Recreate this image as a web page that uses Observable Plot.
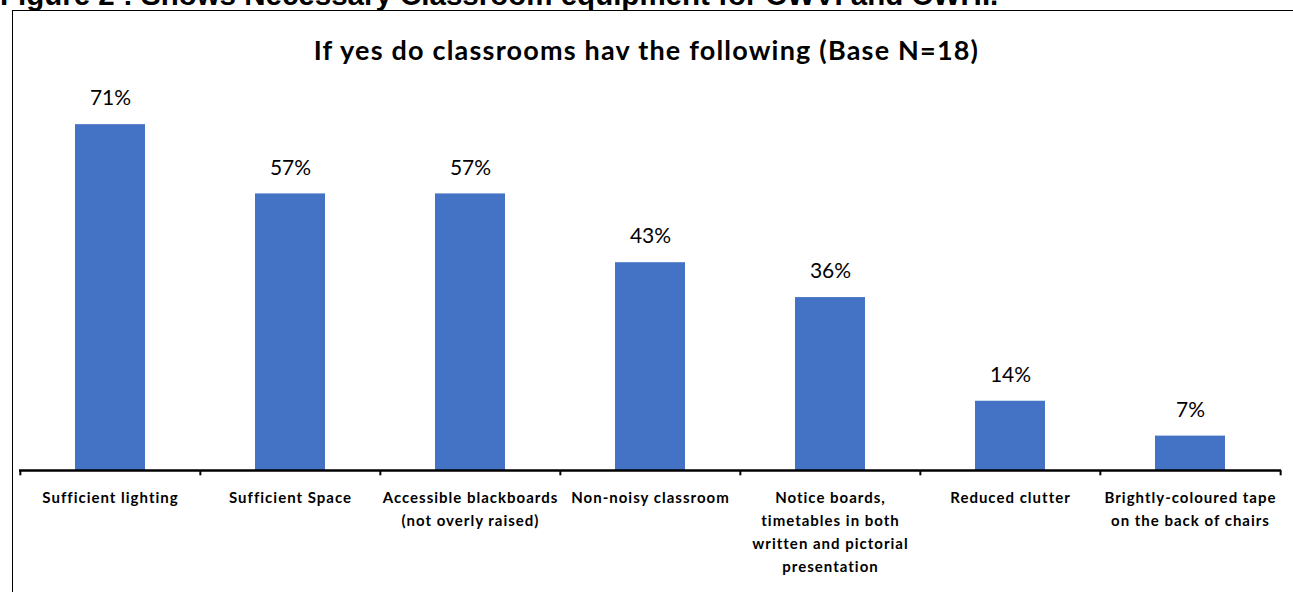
<!DOCTYPE html>
<html>
<head>
<meta charset="utf-8">
<script src="https://cdn.jsdelivr.net/npm/d3@7"></script>
<script src="https://cdn.jsdelivr.net/npm/@observablehq/plot@0.6"></script>
<style>
  html, body { margin: 0; padding: 0; background: #fff; overflow: hidden; width: 1293px; height: 592px; }
  #capsvg { position: absolute; left: 0; top: 0; }
  #box { position: absolute; left: 12px; top: 10px; width: 1400px; height: 700px; border: 1.5px solid #000; box-sizing: border-box; }
  #title { position: absolute; left: 0; width: 1293px; top: 35px; text-align: center; font-family: Lato, "Open Sans", sans-serif; font-weight: bold; font-size: 27px; letter-spacing: 1.2px; color: #000; line-height: 30px; }
  #chart { position: absolute; left: 0; top: 0; }
</style>
</head>
<body>
<svg id="capsvg" width="1293" height="12"><text x="0" y="5" font-family="Liberation Sans, Arial, sans-serif" font-weight="bold" font-size="29.5" fill="#000">Figure 2 : Shows Necessary Classroom equipment for CWVI and CWHI.</text></svg>
<div id="box"></div>
<div id="title">If yes do classrooms hav the following (Base N=18)</div>
<div id="chart"></div>
<script>
const categories = [
  "Sufficient lighting",
  "Sufficient Space",
  "Accessible blackboards\n(not overly raised)",
  "Non-noisy classroom",
  "Notice boards,\ntimetables in both\nwritten and pictorial\npresentation",
  "Reduced clutter",
  "Brightly-coloured tape\non the back of chairs"
];
const values = [71.4, 57.1, 57.1, 42.9, 35.7, 14.3, 7.1];
const valueLabels = ["71%", "57%", "57%", "43%", "36%", "14%", "7%"];

const data = categories.map((c, i) => ({category: c, value: values[i], label: valueLabels[i]}));

const W = 1293, H = 592;
const marginLeft = 19, marginRight = 12;
const step = (W - marginLeft - marginRight) / categories.length;

const plot = Plot.plot({
  width: W,
  height: H,
  marginLeft,
  marginRight,
  marginTop: 82.5,
  marginBottom: 122,
  x: {domain: categories, paddingInner: 0.61, paddingOuter: 0.305, axis: null},
  y: {domain: [0, 80], axis: null},
  style: {background: "transparent", overflow: "visible"},
  marks: [
    Plot.barY(data, {x: "category", y: "value", fill: "#4472C4"}),
    Plot.text(data, {x: "category", y: "value", text: "label", dy: -26, fontSize: 21, fill: "#000", fontFamily: "Lato, sans-serif"}),
    Plot.ruleY([0], {stroke: "#000", strokeWidth: 2.5}),
    Plot.ruleX(categories, {x: d => d, y1: 0, y2: -1.1, dx: -step / 2, stroke: "#000", strokeWidth: 2}),
    Plot.ruleX([categories[categories.length - 1]], {x: d => d, y1: 0, y2: -1.1, dx: step / 2, stroke: "#000", strokeWidth: 2}),
    Plot.text(data, {x: "category", y: 0, text: "category", dy: 16, lineAnchor: "top", lineHeight: 1.53, fontSize: 15, fontWeight: "bold", fill: "#000", fontFamily: "Lato, sans-serif"})
  ]
});
document.getElementById("chart").appendChild(plot);
const textGroups = plot.querySelectorAll('g[aria-label="text"]');
if (textGroups.length > 1) textGroups[textGroups.length - 1].setAttribute("letter-spacing", "1");
</script>
</body>
</html>
